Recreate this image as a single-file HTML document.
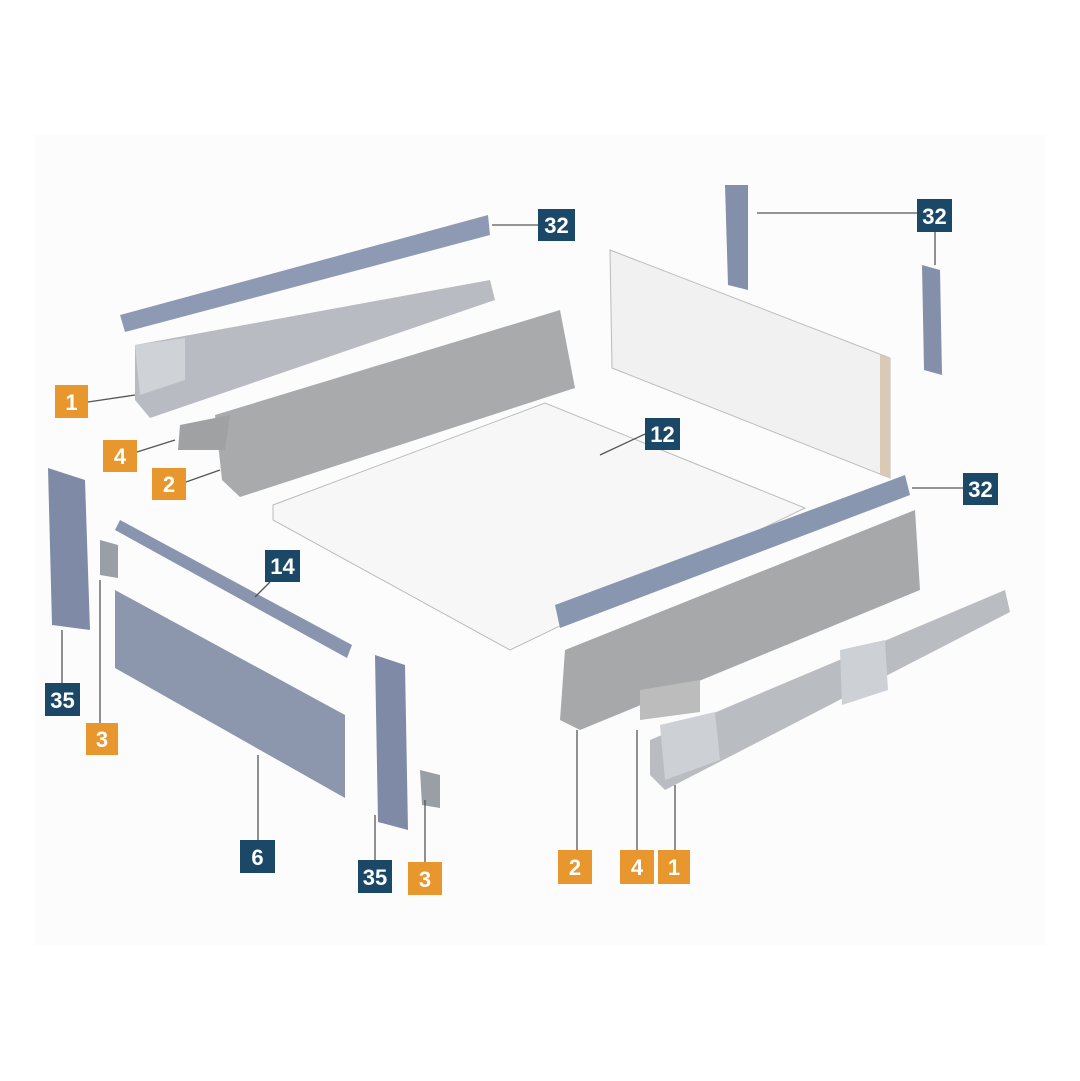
<!DOCTYPE html>
<html><head><meta charset="utf-8"><style>
html,body{margin:0;padding:0;background:#fff;}
svg{display:block}
text{font-family:"Liberation Sans",sans-serif;font-weight:bold;fill:#fff;font-size:22px;text-anchor:middle}
</style></head><body>
<svg width="1080" height="1081" viewBox="0 0 1080 1081" xmlns="http://www.w3.org/2000/svg">
<rect x="0" y="0" width="1080" height="1081" fill="#fff"/>
<rect x="35" y="135" width="1010" height="810" fill="#fcfcfc"/>
<!-- back panel -->
<polygon points="610,250 890,358 890,478 612,368" fill="#f1f1f1" stroke="#bbb"/>
<polygon points="880,355 890,358 890,478 880,474" fill="#d9c9b5"/>
<!-- board -->
<polygon points="273,505 545,403 805,508 510,650 273,520" fill="#f7f7f7" stroke="#bbb"/>
<!-- top rail 32 -->
<polygon points="120,315 488,215 490,235 125,332" fill="#8e9ab3"/>
<!-- left runner -->
<polygon points="135,345 490,280 495,300 150,418 135,400" fill="#b8bcc2"/>
<polygon points="135,345 185,338 185,380 140,395" fill="#cfd2d6"/>
<!-- left side wall -->
<polygon points="215,415 560,310 575,388 240,497 222,480" fill="#a9aaab"/>
<polygon points="180,425 230,415 225,450 178,450" fill="#a0a1a3"/>
<!-- right rail 32 -->
<polygon points="555,605 905,475 910,495 560,628" fill="#8896b0"/>
<!-- right side wall -->
<polygon points="565,650 915,510 920,590 580,730 560,720" fill="#a7a8aa"/>
<polygon points="640,690 700,680 700,712 640,720" fill="#bcbcbc"/>
<!-- right runner -->
<polygon points="650,740 1005,590 1010,612 665,790 650,775" fill="#b9bdc2"/>
<polygon points="660,725 715,712 720,760 665,780" fill="#cdd0d4"/>
<polygon points="840,650 885,640 888,690 842,705" fill="#cdd0d4"/>
<!-- 32 clips top right -->
<polygon points="725,185 748,185 748,290 728,285" fill="#8490aa"/>
<polygon points="922,265 940,270 942,375 924,370" fill="#8490aa"/>
<!-- clip 35 left -->
<polygon points="48,468 85,480 90,630 52,625" fill="#7f8ba6"/>
<!-- rail 14 -->
<polygon points="120,520 352,645 347,658 115,530" fill="#8995ae"/>
<!-- front panel 6 -->
<polygon points="115,590 345,715 345,798 115,668" fill="#8c97ae"/>
<!-- clip 35 bottom -->
<polygon points="375,655 405,665 408,830 378,822" fill="#7f8ba6"/>
<!-- brackets 3 -->
<polygon points="100,540 118,545 118,578 100,575" fill="#9a9ea5"/>
<polygon points="420,770 440,775 440,808 422,805" fill="#9a9ea5"/>
<!-- leader lines -->
<g stroke="#555" stroke-width="1.3" fill="none">
<line x1="492" y1="225" x2="538" y2="225"/>
<line x1="757" y1="213" x2="917" y2="213"/>
<line x1="935" y1="232" x2="935" y2="265"/>
<line x1="912" y1="488" x2="963" y2="488"/>
<line x1="600" y1="455" x2="645" y2="434"/>
<line x1="88" y1="402" x2="135" y2="395"/>
<line x1="137" y1="452" x2="175" y2="440"/>
<line x1="186" y1="482" x2="220" y2="470"/>
<line x1="270" y1="582" x2="255" y2="597"/>
<line x1="62" y1="683" x2="62" y2="630"/>
<line x1="100" y1="723" x2="100" y2="580"/>
<line x1="258" y1="840" x2="258" y2="755"/>
<line x1="375" y1="860" x2="375" y2="815"/>
<line x1="425" y1="862" x2="425" y2="800"/>
<line x1="577" y1="850" x2="577" y2="730"/>
<line x1="637" y1="850" x2="637" y2="730"/>
<line x1="675" y1="850" x2="675" y2="785"/>
</g>
<!-- labels -->
<g>
<rect x="538" y="209" width="37" height="32" fill="#1c4868"/><text x="556.5" y="233">32</text>
<rect x="917" y="199" width="35" height="33" fill="#1c4868"/><text x="934.5" y="224">32</text>
<rect x="963" y="473" width="35" height="32" fill="#1c4868"/><text x="980.5" y="497">32</text>
<rect x="645" y="418" width="35" height="32" fill="#1c4868"/><text x="662.5" y="442">12</text>
<rect x="265" y="550" width="35" height="32" fill="#1c4868"/><text x="282.5" y="574">14</text>
<rect x="45" y="683" width="35" height="33" fill="#1c4868"/><text x="62.5" y="708">35</text>
<rect x="240" y="840" width="35" height="33" fill="#1c4868"/><text x="257.5" y="865">6</text>
<rect x="358" y="860" width="34" height="33" fill="#1c4868"/><text x="375" y="885">35</text>
<rect x="55" y="385" width="33" height="33" fill="#e8972e"/><text x="71.5" y="410">1</text>
<rect x="103" y="440" width="34" height="32" fill="#e8972e"/><text x="120" y="464">4</text>
<rect x="152" y="468" width="34" height="32" fill="#e8972e"/><text x="169" y="492">2</text>
<rect x="86" y="723" width="32" height="32" fill="#e8972e"/><text x="102" y="747">3</text>
<rect x="408" y="862" width="34" height="33" fill="#e8972e"/><text x="425" y="887">3</text>
<rect x="558" y="850" width="34" height="34" fill="#e8972e"/><text x="575" y="875">2</text>
<rect x="620" y="850" width="34" height="34" fill="#e8972e"/><text x="637" y="875">4</text>
<rect x="658" y="850" width="32" height="34" fill="#e8972e"/><text x="674" y="875">1</text>
</g>
</svg>
</body></html>
